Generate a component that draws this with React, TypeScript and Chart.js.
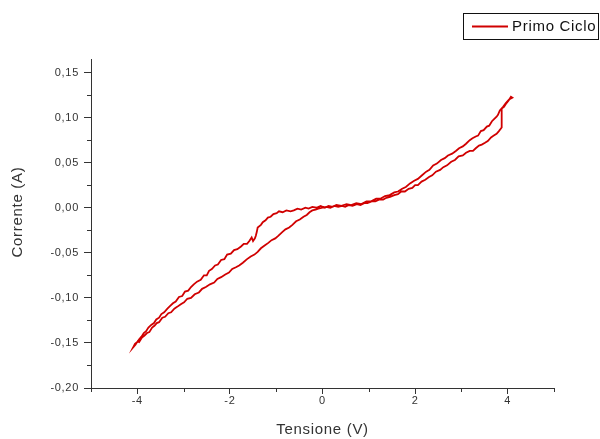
import { useEffect, useRef } from "react";
import { Chart, registerables } from "chart.js";

Chart.register(...registerables);

const seriesLabel = "Primo Ciclo";
const xTitle = "Tensione (V)";
const yTitle = "Corrente (A)";

const xTicks = [-4, -2, 0, 2, 4];
const xMinorTicks = [-5, -3, -1, 1, 3, 5];
const yTicks = [-0.2, -0.15, -0.1, -0.05, 0, 0.05, 0.1, 0.15];
const yMinorTicks = [-0.175, -0.125, -0.075, -0.025, 0.025, 0.075, 0.125];

// Voltage (V) along the measured loop
const tensione = [
  // 0 -> +4 (lower branch)
  0.0, 0.08, 0.17, 0.25, 0.34, 0.42, 0.49, 0.57, 0.65, 0.74, 0.82, 0.9, 0.97, 1.06, 1.14, 1.22,
  1.31, 1.38, 1.46, 1.55, 1.63, 1.7, 1.78, 1.86, 1.94, 2.0, 2.06, 2.14, 2.22, 2.3, 2.37, 2.45,
  2.54, 2.61, 2.69, 2.78, 2.86, 2.94, 3.03, 3.1, 3.18, 3.25, 3.31, 3.38, 3.44, 3.51, 3.57, 3.64,
  3.7, 3.76, 3.81, 3.87, 3.87, 3.87, 3.92, 3.96, 4.02, 4.07, 4.1,
  // +4 -> 0 (upper branch)
  4.03, 3.96, 3.9, 3.83, 3.79, 3.76, 3.7, 3.66, 3.6, 3.55, 3.48, 3.42, 3.36, 3.31, 3.24, 3.18,
  3.1, 3.03, 2.95, 2.88, 2.8, 2.71, 2.64, 2.56, 2.47, 2.39, 2.31, 2.24, 2.15, 2.06, 1.98, 1.89,
  1.8, 1.72, 1.63, 1.55, 1.45, 1.35, 1.25, 1.16, 1.05, 0.95, 0.84, 0.73, 0.62, 0.52, 0.41, 0.3,
  0.22, 0.13, 0.05, -0.04, -0.13,
  // 0 -> -4 (upper branch)
  -0.22, -0.3, -0.37, -0.46, -0.54, -0.62, -0.69, -0.78, -0.86, -0.94, -0.99, -1.06, -1.12, -1.18,
  -1.23, -1.29, -1.33, -1.4, -1.42, -1.44, -1.46, -1.5, -1.53, -1.58, -1.63, -1.7, -1.76, -1.84,
  -1.91, -1.98, -2.06, -2.12, -2.19, -2.26, -2.32, -2.39, -2.45, -2.5, -2.56, -2.63, -2.71, -2.78,
  -2.84, -2.9, -2.97, -3.03, -3.1, -3.17, -3.23, -3.29, -3.35, -3.42, -3.48, -3.53, -3.59, -3.64,
  -3.7, -3.76, -3.81, -3.86, -3.91, -3.96, -4.0, -4.05, -4.09,
  // -4 -> 0 (lower branch)
  -4.04, -3.99, -3.96, -3.9, -3.85, -3.79, -3.74, -3.68, -3.63, -3.58, -3.53, -3.46, -3.4, -3.33,
  -3.27, -3.2, -3.14, -3.06, -2.99, -2.92, -2.84, -2.76, -2.67, -2.6, -2.52, -2.43, -2.34, -2.27,
  -2.19, -2.1, -2.02, -1.95, -1.87, -1.8, -1.72, -1.63, -1.55, -1.47, -1.4, -1.33, -1.25, -1.17,
  -1.1, -1.02, -0.95, -0.87, -0.8, -0.72, -0.65, -0.57, -0.49, -0.41, -0.34, -0.28, -0.22, -0.15,
  -0.09, 0.0,
];

// Current (A) along the measured loop
const corrente = [
  // 0 -> +4 (lower branch)
  0.0, 0.001, 0.0, 0.002, 0.001, 0.002, 0.001, 0.003, 0.002, 0.004, 0.003, 0.005, 0.005, 0.007, 0.007, 0.009,
  0.009, 0.011, 0.012, 0.014, 0.015, 0.018, 0.018, 0.021, 0.022, 0.025, 0.025, 0.029, 0.031, 0.034, 0.036, 0.04,
  0.042, 0.045, 0.047, 0.051, 0.053, 0.057, 0.058, 0.061, 0.063, 0.063, 0.066, 0.069, 0.07, 0.072, 0.074, 0.078,
  0.08, 0.082, 0.085, 0.089, 0.1, 0.11, 0.112, 0.115, 0.119, 0.123, 0.122,
  // +4 -> 0 (upper branch)
  0.12, 0.116, 0.112, 0.108, 0.103, 0.101, 0.098, 0.096, 0.091, 0.09, 0.086, 0.085, 0.08, 0.079, 0.077, 0.075,
  0.071, 0.068, 0.066, 0.063, 0.06, 0.058, 0.055, 0.053, 0.049, 0.047, 0.042, 0.04, 0.036, 0.032, 0.03, 0.027,
  0.023, 0.021, 0.018, 0.017, 0.014, 0.013, 0.01, 0.01, 0.007, 0.007, 0.004, 0.005, 0.003, 0.004, 0.002, 0.003,
  0.001, 0.002, 0.0, 0.002, 0.0,
  // 0 -> -4 (upper branch)
  0.001, -0.001, 0.0, -0.002, -0.001, -0.003, -0.004, -0.003, -0.005, -0.004, -0.006, -0.007, -0.01, -0.011,
  -0.014, -0.016, -0.019, -0.022, -0.027, -0.031, -0.034, -0.037, -0.033, -0.037, -0.04, -0.04, -0.043, -0.046,
  -0.047, -0.051, -0.052, -0.057, -0.058, -0.063, -0.064, -0.068, -0.07, -0.075, -0.075, -0.08, -0.082, -0.085,
  -0.088, -0.092, -0.093, -0.098, -0.099, -0.104, -0.106, -0.109, -0.112, -0.116, -0.118, -0.122, -0.124, -0.128,
  -0.13, -0.133, -0.137, -0.139, -0.143, -0.146, -0.149, -0.151, -0.155,
  // -4 -> 0 (lower branch)
  -0.152, -0.148, -0.149, -0.144, -0.142, -0.139, -0.138, -0.133, -0.131, -0.128, -0.127, -0.122, -0.121, -0.117,
  -0.116, -0.112, -0.11, -0.107, -0.105, -0.101, -0.1, -0.096, -0.094, -0.09, -0.088, -0.085, -0.083, -0.079,
  -0.077, -0.074, -0.072, -0.068, -0.066, -0.064, -0.061, -0.057, -0.054, -0.052, -0.049, -0.045, -0.042, -0.039,
  -0.036, -0.034, -0.031, -0.027, -0.024, -0.022, -0.019, -0.015, -0.013, -0.01, -0.008, -0.005, -0.003, -0.002,
  -0.001, 0.0,
];

const LINE_COLOR = "rgb(208, 0, 0)";
const AXIS_COLOR = "#333333";
const TEXT_COLOR = "#333333";
const FONT = "'Liberation Sans', Arial, sans-serif";

const spacingPlugin = {
  id: "letterSpacing",
  beforeDraw(chart: any) {
    (chart.ctx as any).letterSpacing = "0.7px";
  },
};

const minorTicksPlugin = {
  id: "minorTicks",
  afterDraw(chart: any) {
    const ctx = chart.ctx;
    const xs = chart.scales.x;
    const ys = chart.scales.y;
    const area = chart.chartArea;
    ctx.save();
    ctx.strokeStyle = AXIS_COLOR;
    ctx.lineWidth = 1;
    ctx.beginPath();
    xMinorTicks.forEach((v) => {
      const px = Math.round(xs.getPixelForValue(v)) + 0.5;
      ctx.moveTo(px, area.bottom);
      ctx.lineTo(px, area.bottom + 4);
    });
    yMinorTicks.forEach((v) => {
      const py = Math.round(ys.getPixelForValue(v)) + 0.5;
      ctx.moveTo(area.left - 4, py);
      ctx.lineTo(area.left, py);
    });
    ctx.stroke();
    ctx.restore();
  },
};

const yTitlePlugin = {
  id: "yTitle",
  afterDraw(chart: any) {
    const ctx = chart.ctx;
    ctx.save();
    ctx.translate(18, 212);
    ctx.rotate(-Math.PI / 2);
    ctx.fillStyle = TEXT_COLOR;
    ctx.font = `15px ${FONT}`;
    ctx.textAlign = "center";
    ctx.textBaseline = "middle";
    ctx.fillText(yTitle, 0, 0);
    ctx.restore();
  },
};

const boxLegendPlugin = {
  id: "boxLegend",
  afterDraw(chart: any) {
    const ctx = chart.ctx;
    const ds = chart.data.datasets[0];
    ctx.save();
    ctx.strokeStyle = "#111111";
    ctx.lineWidth = 1;
    ctx.strokeRect(463.5, 13.5, 135, 26);
    ctx.strokeStyle = ds.borderColor;
    ctx.lineWidth = 2;
    ctx.beginPath();
    ctx.moveTo(472, 26.5);
    ctx.lineTo(508, 26.5);
    ctx.stroke();
    ctx.fillStyle = "#111111";
    ctx.font = `15px ${FONT}`;
    ctx.textAlign = "left";
    ctx.textBaseline = "middle";
    ctx.fillText(ds.label, 512, 27);
    ctx.restore();
  },
};

export default function App() {
  const canvasRef = useRef<HTMLCanvasElement | null>(null);

  useEffect(() => {
    if (!canvasRef.current) return;
    const points = tensione.map((x, i) => ({ x, y: corrente[i] }));
    const chart = new Chart(canvasRef.current, {
      type: "scatter",
      data: {
        datasets: [
          {
            label: seriesLabel,
            data: points,
            showLine: true,
            borderColor: LINE_COLOR,
            backgroundColor: LINE_COLOR,
            borderWidth: 1.8,
            pointRadius: 0,
            pointHoverRadius: 0,
            tension: 0,
            fill: false,
          },
        ],
      },
      options: {
        animation: false,
        responsive: false,
        devicePixelRatio: 1,
        layout: { padding: { top: 59, right: 46, left: 0, bottom: 0 } },
        plugins: {
          legend: { display: false },
          tooltip: { enabled: false },
        },
        scales: {
          x: {
            type: "linear",
            min: -5,
            max: 5,
            afterBuildTicks: (s: any) => {
              s.ticks = xTicks.map((v) => ({ value: v }));
            },
            afterFit: (s: any) => {
              s.height = 51;
            },
            grid: {
              drawOnChartArea: false,
              tickLength: 6,
              color: AXIS_COLOR,
              tickColor: AXIS_COLOR,
            },
            border: { color: AXIS_COLOR, width: 1 },
            ticks: {
              padding: 0,
              color: TEXT_COLOR,
              font: { family: FONT, size: 11 },
              callback: (v: any) => String(v),
            },
            title: {
              display: true,
              text: xTitle,
              color: TEXT_COLOR,
              font: { family: FONT, size: 15 },
              padding: { top: 0, bottom: 0 },
            },
          },
          y: {
            type: "linear",
            min: -0.2,
            max: 0.165,
            afterBuildTicks: (s: any) => {
              s.ticks = yTicks.map((v) => ({ value: v }));
            },
            afterFit: (s: any) => {
              s.width = 91;
            },
            grid: {
              drawOnChartArea: false,
              tickLength: 7,
              color: AXIS_COLOR,
              tickColor: AXIS_COLOR,
            },
            border: { color: AXIS_COLOR, width: 1 },
            ticks: {
              padding: 5,
              color: TEXT_COLOR,
              font: { family: FONT, size: 11 },
              callback: (v: any) => Number(v).toFixed(2).replace(".", ","),
            },
            title: { display: false },
          },
        },
      },
      plugins: [spacingPlugin, minorTicksPlugin, yTitlePlugin, boxLegendPlugin],
    });
    return () => chart.destroy();
  }, []);

  return (
    <div style={{ position: "absolute", left: 0, top: 0, width: 600, height: 439, background: "#fff" }}>
      <canvas ref={canvasRef} width={600} height={439} style={{ display: "block", width: 600, height: 439 }} />
    </div>
  );
}
